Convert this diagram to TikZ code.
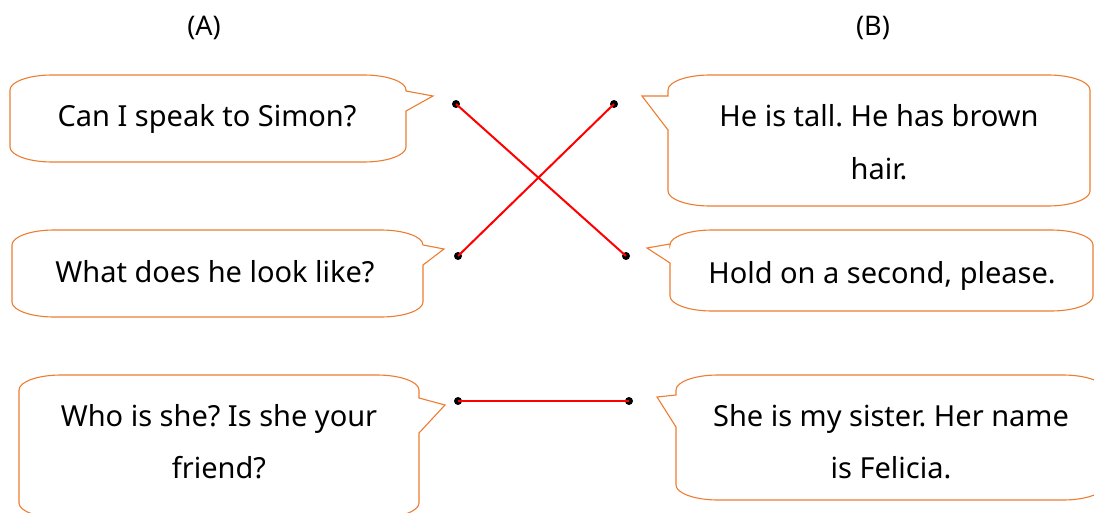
\documentclass[tikz,border=0pt]{standalone}
\usepackage{fontspec}
\setmainfont{Noto Sans}
\frenchspacing
\definecolor{bubbleorange}{HTML}{ED7D31}
\newcommand\bubrx{42}
\newcommand\bubry{15}
\newcommand\bubk{0.55}
% pointer on the right: L T R B p1 tipx tipy p2
\newcommand\rbubble[8]{%
\draw[bubble] ({#1+\bubrx},#2) -- ({#3-\bubrx},#2)
 .. controls ({#3-\bubrx*(1-\bubk)},#2) and (#3,{#2+\bubry*(1-\bubk)}) .. (#3,{#2+\bubry})
 -- (#3,#5) -- (#6,#7) -- (#3,#8) -- (#3,{#4-\bubry})
 .. controls (#3,{#4-\bubry*(1-\bubk)}) and ({#3-\bubrx*(1-\bubk)},#4) .. ({#3-\bubrx},#4)
 -- ({#1+\bubrx},#4)
 .. controls ({#1+\bubrx*(1-\bubk)},#4) and (#1,{#4-\bubry*(1-\bubk)}) .. (#1,{#4-\bubry})
 -- (#1,{#2+\bubry})
 .. controls (#1,{#2+\bubry*(1-\bubk)}) and ({#1+\bubrx*(1-\bubk)},#2) .. cycle;}
% pointer on the left: L T R B p1 tipx tipy p2
\newcommand\lbubble[8]{%
\draw[bubble] ({#1+\bubrx},#2) -- ({#3-\bubrx},#2)
 .. controls ({#3-\bubrx*(1-\bubk)},#2) and (#3,{#2+\bubry*(1-\bubk)}) .. (#3,{#2+\bubry})
 -- (#3,{#4-\bubry})
 .. controls (#3,{#4-\bubry*(1-\bubk)}) and ({#3-\bubrx*(1-\bubk)},#4) .. ({#3-\bubrx},#4)
 -- ({#1+\bubrx},#4)
 .. controls ({#1+\bubrx*(1-\bubk)},#4) and (#1,{#4-\bubry*(1-\bubk)}) .. (#1,{#4-\bubry})
 -- (#1,#8) -- (#6,#7) -- (#1,#5) -- (#1,{#2+\bubry})
 .. controls (#1,{#2+\bubry*(1-\bubk)}) and ({#1+\bubrx*(1-\bubk)},#2) .. cycle;}
\begin{document}
\begin{tikzpicture}[x=1pt,y=-1pt,
  bubble/.style={draw=bubbleorange,line width=1.1pt,fill=white,line join=miter},
  txt/.style={font=\fontsize{29}{52}\selectfont,anchor=base,inner sep=0pt,align=center},
  lbl/.style={font=\fontsize{27}{32}\selectfont,inner sep=0pt},
  dotnode/.style={circle,fill=black,inner sep=0pt,minimum size=8pt},
  match/.style={draw=red,line width=2pt}]
\useasboundingbox (0,0) rectangle (1094,513);
\clip (0,0) rectangle (1094,513);
\node[lbl] (la) at (204,28) {(A)};
\node[lbl] (lb) at (873,28) {(B)};
% bubbles
\rbubble{10}{75}{406}{162}{91}{433}{96}{111}
\rbubble{12}{230}{423}{317}{245}{444}{249}{265}
\rbubble{19}{375}{419}{518}{398}{445}{405}{433}
\lbubble{668}{75}{1090}{206}{96}{642}{96}{130}
\lbubble{670}{230}{1093}{311}{244}{647}{248}{263}
\lbubble{676}{375}{1105}{500}{395}{657}{397}{427}
% texts (multi-line nodes: base = last line)
\node[txt] (a1) at (207,127) {Can I speak to Simon?};
\node[txt] (a2) at (215,282) {What does he look like?};
\node[txt] (a3) at (219,478) {Who is she? Is she your\\friend?};
\node[txt] (b1) at (879,179) {He is tall. He has brown\\hair.};
\node[txt] (b2) at (882,283) {Hold on a second, please.};
\node[txt] (b3) at (891,478) {She is my sister. Her name\\is Felicia.};
% dots
\node[dotnode] (d1) at (456,104) {};
\node[dotnode] (d2) at (458,256) {};
\node[dotnode] (d3) at (458,401) {};
\node[dotnode] (e1) at (614,104) {};
\node[dotnode] (e2) at (626,256) {};
\node[dotnode] (e3) at (629,401) {};
% matches
\draw[match] (d1.center) -- (e2.center);
\draw[match] (d2.center) -- (e1.center);
\draw[match] (d3.center) -- (e3.center);
\end{tikzpicture}
\end{document}
